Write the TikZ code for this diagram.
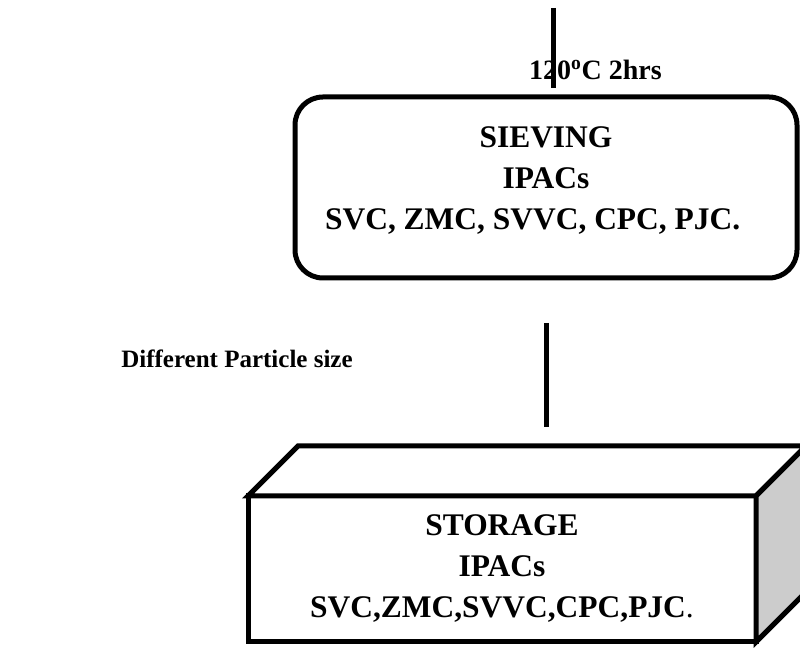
\documentclass[tikz,border=0pt]{standalone}
\usepackage{fontspec}
\setmainfont{Liberation Serif}
\usetikzlibrary{positioning}

\begin{document}
\begin{tikzpicture}[x=0.75pt, y=0.75pt,
		thickline/.style={line width=3.75pt},
		sievebox/.style={thickline, draw, rounded corners=21pt, outer sep=0pt, minimum width=376.5pt, minimum height=135.75pt},
		storebox/.style={thickline, draw, fill=white, outer sep=0pt, minimum width=381pt, minimum height=109.5pt},
		boxtext/.style={align=center, inner sep=0pt, font=\fontsize{23.6}{30.75}\selectfont\bfseries},
		note/.style={inner sep=0pt, font=\fontsize{21}{25}\selectfont\bfseries},
		sidenote/.style={inner sep=0pt, font=\fontsize{18.75}{22}\selectfont\bfseries}]
		
		\useasboundingbox (0,0) rectangle (800,648);
		\clip (0,0) rectangle (800,648);
		
		% sieving step
		\node[sievebox] (sieve) at (546,460.5) {};
		\node[boxtext] (sievetxt) at ([yshift=5pt]sieve.center) {SIEVING\\IPACs\\SVC, ZMC, SVVC, CPC, PJC.\hspace*{20pt}};
		
		\node[note, anchor=base] (temp) at (595.5,568) {120\textsuperscript{o}C 2hrs};
		\coordinate (feed) at (553,640);
		\coordinate (feedend) at (553,560);
		\draw[thickline] (feed) -- (feedend);
		
		% storage block
		\node[storebox] (store) at (502,79) {};
		\coordinate (lid) at ([shift={(50,50)}]store.north west);
		\filldraw[thickline, fill=white] (store.north west) -- (lid) -- ++(508,0) -- (store.north east) -- cycle;
		\filldraw[thickline, fill=gray!40] (store.north east) -- ++(50,50) -- ++(0,-146) -- (store.south east) -- cycle;
		\node[boxtext] (storetxt) at (store.center) {STORAGE\\IPACs\\SVC,ZMC,SVVC,CPC,PJC{\mdseries .}};
		
		\draw[thickline, shorten <=33.75pt, shorten >=14.25pt] (sieve.south) -- (sieve.south |- lid);
		\node[sidenote, anchor=base] (size) at (237,280) {Different Particle size};
		
	\end{tikzpicture}
\end{document}
